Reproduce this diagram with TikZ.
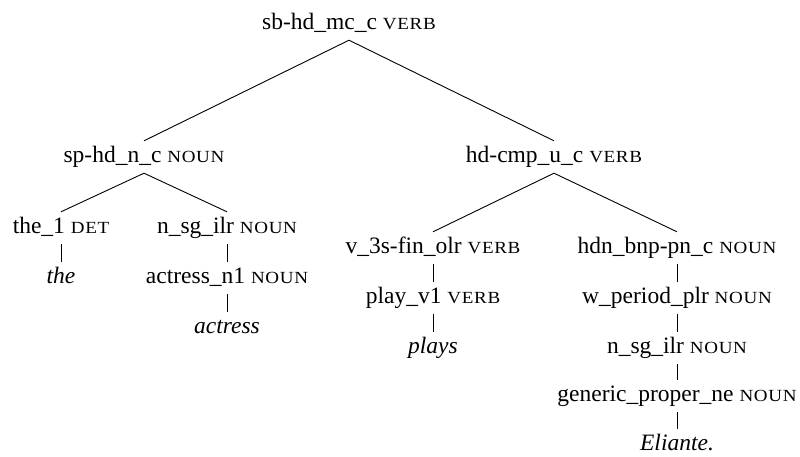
\documentclass[tikz,border=0pt]{standalone}
\usepackage{fontspec}
\setmainfont{Liberation Serif}
\newfontfamily\libser{Liberation Serif}
\newfontfamily\libsc{Liberation Serif}[FakeStretch=1.12, LetterSpace=4]
\newcommand{\catlab}[1]{{\libsc\fontsize{17}{18}\selectfont #1}}
\begin{document}
\begin{tikzpicture}[x=1pt,y=-1pt,
  tn/.style={inner sep=0pt, text height=21pt, text depth=11pt, anchor=base,
             font=\libser\fontsize{23.5}{25}\selectfont},
  br/.style={line width=0.9pt, black}]
\useasboundingbox (0,0) rectangle (800,456);
% nodes
\node[tn] (root) at (349,29) {sb-hd\_mc\_c \catlab{VERB}};
\node[tn] (sphd) at (144,162) {sp-hd\_n\_c \catlab{NOUN}};
\node[tn] (hdcmp) at (554,162) {hd-cmp\_u\_c \catlab{VERB}};
\node[tn] (the1) at (61,233) {the\_1 \catlab{DET}};
\node[tn] (nsg) at (227,233) {n\_sg\_ilr \catlab{NOUN}};
\node[tn] (the) at (61,283) {\textit{the}};
\node[tn] (actn) at (227,283) {actress\_n1 \catlab{NOUN}};
\node[tn] (act) at (227,333) {\textit{actress}};
\node[tn] (v3s) at (433,253) {v\_3s-fin\_olr \catlab{VERB}};
\node[tn] (play) at (433,303) {play\_v1 \catlab{VERB}};
\node[tn] (plays) at (433,353) {\textit{plays}};
\node[tn] (hdn) at (677,253) {hdn\_bnp-pn\_c \catlab{NOUN}};
\node[tn] (wper) at (677,303) {w\_period\_plr \catlab{NOUN}};
\node[tn] (nsgb) at (677,353) {n\_sg\_ilr \catlab{NOUN}};
\node[tn] (gen) at (677,401) {generic\_proper\_ne \catlab{NOUN}};
\node[tn] (eli) at (677,450) {\textit{Eliante.}};
% branches
\draw[br] (root.south) -- (sphd.north);
\draw[br] (root.south) -- (hdcmp.north);
\draw[br] (sphd.south) -- (the1.north);
\draw[br] (sphd.south) -- (nsg.north);
\draw[br] (the1.south) -- (the.north);
\draw[br] (nsg.south) -- (actn.north);
\draw[br] (actn.south) -- (act.north);
\draw[br] (hdcmp.south) -- (v3s.north);
\draw[br] (hdcmp.south) -- (hdn.north);
\draw[br] (v3s.south) -- (play.north);
\draw[br] (play.south) -- (plays.north);
\draw[br] (hdn.south) -- (wper.north);
\draw[br] (wper.south) -- (nsgb.north);
\draw[br] (nsgb.south) -- (gen.north);
\draw[br] (gen.south) -- (eli.north);
\end{tikzpicture}
\end{document}
